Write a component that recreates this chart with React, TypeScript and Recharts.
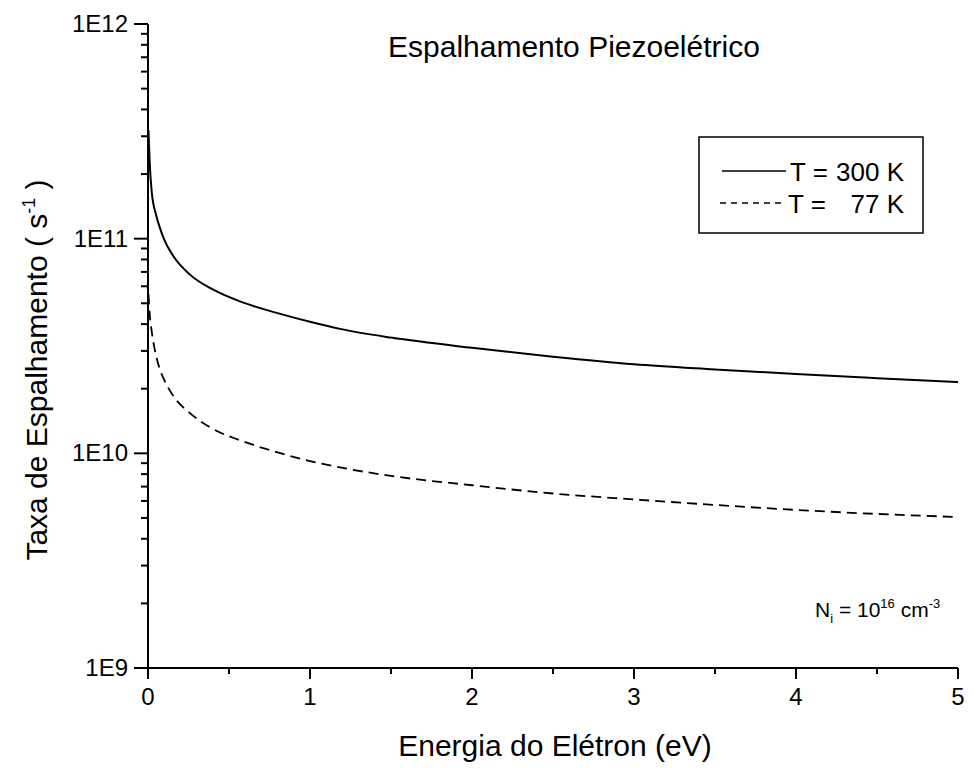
import { LineChart, Line, XAxis, YAxis } from "recharts";

// electron energy (eV)
const energy = [0.003, 0.01, 0.023, 0.05, 0.074, 0.1, 0.156, 0.259, 0.4, 0.568, 0.8, 1.0, 1.185, 1.5, 2.0, 2.5, 3.0, 3.5, 4.0, 4.5, 5.0];
// scattering rate (1/s), T = 300 K
const rate300K = [3.2e11, 2.3e11, 1.65e11, 1.29e11, 1.12e11, 9.9e10, 8.3e10, 6.8e10, 5.8e10, 5.1e10, 4.5e10, 4.1e10, 3.8e10, 3.46e10, 3.1e10, 2.82e10, 2.6e10, 2.46e10, 2.34e10, 2.24e10, 2.15e10];
// scattering rate (1/s), T = 77 K
const rate77K = [5.5e10, 4.5e10, 3.7e10, 2.85e10, 2.45e10, 2.2e10, 1.85e10, 1.54e10, 1.3e10, 1.15e10, 1.01e10, 9.2e9, 8.6e9, 7.85e9, 7.1e9, 6.5e9, 6.1e9, 5.75e9, 5.45e9, 5.22e9, 5.05e9];

const xTicks = [0, 0.5, 1, 1.5, 2, 2.5, 3, 3.5, 4, 4.5, 5];
const xTickLabels = ["0", "", "1", "", "2", "", "3", "", "4", "", "5"];
const yMajorTicks = [1e9, 1e10, 1e11, 1e12];
const yTickLabels = ["1E9", "1E10", "1E11", "1E12"];
const yMinorFactors = [2, 3, 4, 5, 6, 7, 8, 9];

const data = energy.map((e, i) => ({ e, t300: rate300K[i], t77: rate77K[i] }));

const yTicks: number[] = [];
yMajorTicks.forEach((m, i) => {
  yTicks.push(m);
  if (i < yMajorTicks.length - 1) yMinorFactors.forEach((f) => yTicks.push(f * m));
});

const FONT = '"Liberation Sans", Arial, sans-serif';

const majorIndex = (v: number) => yMajorTicks.findIndex((m) => Math.abs(v / m - 1) < 1e-6);

// eslint-disable-next-line @typescript-eslint/no-explicit-any
const LeftTick = (props: any) => {
  const { x, y, payload } = props;
  const idx = majorIndex(payload.value);
  const major = idx >= 0;
  return (
    <g>
      <line x1={x - (major ? 14 : 7)} x2={x} y1={y} y2={y} stroke="#000" strokeWidth={2} />
      {major && (
        <text x={x - 20} y={y + 8} textAnchor="end" fontSize={24} fontFamily={FONT} fill="#000">
          {yTickLabels[idx]}
        </text>
      )}
    </g>
  );
};

// eslint-disable-next-line @typescript-eslint/no-explicit-any
const BottomTick = (props: any) => {
  const { x, y, payload } = props;
  const label = xTickLabels[xTicks.indexOf(payload.value)];
  return (
    <g>
      <line x1={x} x2={x} y1={y} y2={y + (label ? 11 : 6)} stroke="#000" strokeWidth={2} />
      {label && (
        <text x={x} y={y + 37} textAnchor="middle" fontSize={24} fontFamily={FONT} fill="#000">
          {label}
        </text>
      )}
    </g>
  );
};

// eslint-disable-next-line @typescript-eslint/no-explicit-any
const TopTick = (props: any) => {
  const { x, y, payload } = props;
  const major = xTickLabels[xTicks.indexOf(payload.value)] !== "";
  return <line x1={x} x2={x} y1={y} y2={y + (major ? 10 : 6)} stroke="#000" strokeWidth={2} />;
};

export default function App() {
  return (
    <div style={{ position: "absolute", left: 0, top: 0, width: 974, height: 772, background: "#fff" }}>
      <LineChart width={974} height={772} data={data} margin={{ top: 24, right: 16, bottom: 0, left: 0 }}>
        <XAxis
          xAxisId="bottom"
          dataKey="e"
          type="number"
          domain={[0, 5]}
          ticks={xTicks}
          interval={0}
          height={104}
          axisLine={{ stroke: "#000", strokeWidth: 2 }}
          tickLine={false}
          tickSize={0}
          tickMargin={0}
          tick={<BottomTick />}
        />
        <XAxis
          xAxisId="top"
          orientation="top"
          dataKey="e"
          type="number"
          domain={[0, 5]}
          ticks={xTicks}
          interval={0}
          height={0}
          axisLine={{ stroke: "#000", strokeWidth: 2 }}
          tickLine={false}
          tickSize={0}
          tickMargin={0}
          tick={<TopTick />}
        />
        <YAxis
          yAxisId="left"
          scale="log"
          domain={[1e9, 1e12]}
          allowDataOverflow
          ticks={yTicks}
          interval={0}
          width={148}
          axisLine={{ stroke: "#000", strokeWidth: 2 }}
          tickLine={false}
          tickSize={0}
          tickMargin={0}
          tick={<LeftTick />}
        />
        <YAxis
          yAxisId="right"
          orientation="right"
          scale="log"
          domain={[1e9, 1e12]}
          allowDataOverflow
          width={0}
          axisLine={{ stroke: "#000", strokeWidth: 2 }}
          tickLine={false}
          tick={false}
        />
        <Line
          xAxisId="bottom"
          yAxisId="left"
          type="monotone"
          dataKey="t300"
          stroke="#000"
          strokeWidth={2}
          dot={false}
          isAnimationActive={false}
        />
        <Line
          xAxisId="bottom"
          yAxisId="left"
          type="monotone"
          dataKey="t77"
          stroke="#000"
          strokeWidth={1.8}
          strokeDasharray="10 6"
          dot={false}
          isAnimationActive={false}
        />
      </LineChart>

      <svg
        width={974}
        height={772}
        style={{ position: "absolute", left: 0, top: 0, pointerEvents: "none" }}
        fontFamily={FONT}
      >
        <text x={388} y={57} fontSize={30} fill="#000">
          Espalhamento Piezoelétrico
        </text>

        {/* legend */}
        <rect x={699} y={137} width={224} height={96} fill="none" stroke="#000" strokeWidth={1.5} />
        <line x1={722} x2={786} y1={171} y2={171} stroke="#000" strokeWidth={1.5} />
        <text x={790} y={181} fontSize={26} fill="#000">T =</text>
        <text x={904} y={181} fontSize={26} fill="#000" textAnchor="end">300 K</text>
        <line x1={720} x2={782} y1={203} y2={203} stroke="#000" strokeWidth={1.5} strokeDasharray="6 5" />
        <text x={788} y={213} fontSize={26} fill="#000">T =</text>
        <text x={904} y={213} fontSize={26} fill="#000" textAnchor="end">77 K</text>

        <text x={815} y={617} fontSize={21} fill="#000">
          N<tspan fontSize={13} dy={6}>i</tspan>
          <tspan dy={-6}> = 10</tspan>
          <tspan fontSize={13} dy={-9}>16</tspan>
          <tspan dy={9}> cm</tspan>
          <tspan fontSize={13} dy={-9}>-3</tspan>
        </text>

        <text x={555} y={756} fontSize={30} fill="#000" textAnchor="middle">
          Energia do Elétron (eV)
        </text>
        <text x={47} y={370} fontSize={30} fill="#000" textAnchor="middle" transform="rotate(-90, 47, 370)">
          Taxa de Espalhamento ( s<tspan fontSize={18} dy={-12}>-1</tspan>
          <tspan dy={12}> )</tspan>
        </text>
      </svg>
    </div>
  );
}
